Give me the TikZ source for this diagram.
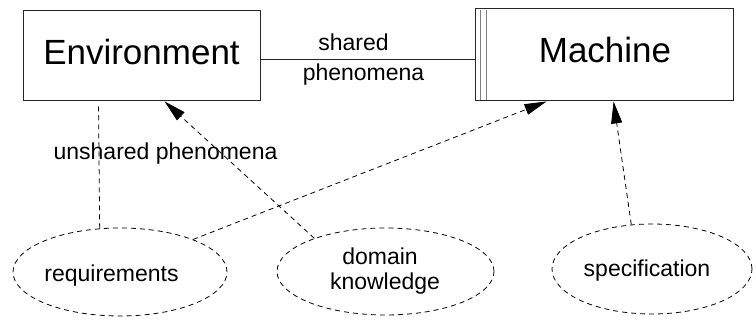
\documentclass[tikz,border=0pt]{standalone}
\usepackage{fontspec}
\setmainfont{Liberation Sans}
\usetikzlibrary{shapes.geometric,arrows.meta}
\tikzset{
  x=1pt, y=-1pt,
  bigtext/.style={font=\fontsize{35}{40}\selectfont, inner sep=0pt, anchor=base},
  smalltext/.style={font=\fontsize{23}{27}\selectfont, inner sep=0pt, anchor=base},
  thing/.style={draw=black!85, line width=0.9pt, rectangle, inner sep=0pt},
  goal/.style={draw=black, dash pattern=on 5pt off 4pt, line width=0.8pt,
               ellipse, inner sep=0pt},
  link/.style={draw=black, dash pattern=on 5pt off 4pt, line width=0.8pt},
  tip/.style={-{Triangle[length=22pt,width=11pt]}}
}
\begin{document}
\begin{tikzpicture}
\useasboundingbox (0,0) rectangle (756,320);

% domains
\node[thing, minimum width=237pt, minimum height=90pt] (env) at (141.5,55) {};
\node[thing, minimum width=258pt, minimum height=92pt] (mach) at (604,54) {};
\draw[gray, line width=1.1pt] ([xshift=6pt,yshift=-2pt]mach.north west) -- ([xshift=6pt]mach.south west);
\draw[gray, line width=1.1pt] ([xshift=12pt,yshift=-2pt]mach.north west) -- ([xshift=12pt]mach.south west);
\node[bigtext] (envlbl) at (141.5,65) {Environment};
\node[bigtext] (machlbl) at (605,63) {Machine};

% shared phenomena interface
\draw[black!85, line width=0.9pt] ([yshift=-4pt]env.east) -- ([yshift=-4pt]env.east -| mach.west);
\node[smalltext] (sh1) at (353.5,51) {shared};
\node[smalltext] (sh2) at (363.5,81) {phenomena};

% descriptions
\node[goal, minimum width=214pt, minimum height=88pt] (req) at (120,272) {};
\node[goal, minimum width=217pt, minimum height=87pt] (dk) at (385.5,271.5) {};
\node[goal, minimum width=200pt, minimum height=90pt] (spec) at (652,269) {};
\node[smalltext] (reqlbl) at (111.5,282) {requirements};
\node[smalltext] (dk1) at (380,265) {domain};
\node[smalltext] (dk2) at (385,290) {knowledge};
\node[smalltext] (speclbl) at (647,277) {specification};

% references
\draw[link] (req.115) -- ([xshift=76pt,yshift=-5pt]env.south west);
\node[smalltext] (unsh) at (165.5,160) {unshared phenomena};
\draw[link, tip] (dk.155) -- ([xshift=142pt,yshift=-1pt]env.south west);
\draw[link, tip] (req.24) -- ([xshift=72pt,yshift=-1pt]mach.south west);
\draw[link, tip] (spec.115) -- ([xshift=139pt,yshift=-1pt]mach.south west);
\end{tikzpicture}
\end{document}
